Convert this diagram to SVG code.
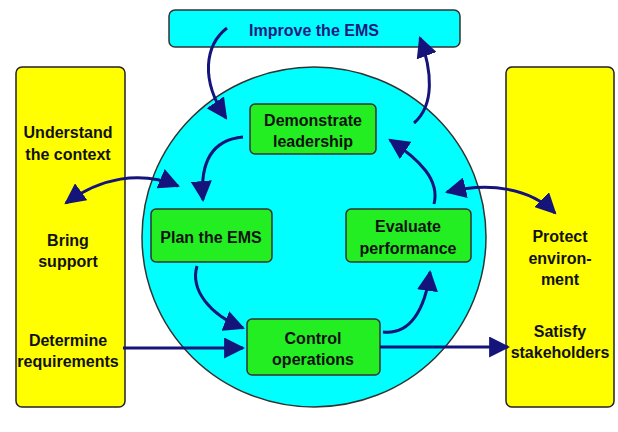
<svg xmlns="http://www.w3.org/2000/svg" width="618" height="432" viewBox="0 0 618 432">
<defs>
<style>
text{font-family:"Liberation Sans",Arial,sans-serif;font-weight:bold;font-size:16px;text-anchor:middle;fill:#111}
.y{fill:#ffff00;stroke:#222;stroke-width:1.5}
.g{fill:#22ee22;stroke:#333;stroke-width:1.5}
.c path{fill:none;stroke:#14147a;stroke-width:3;marker-end:url(#a)}
</style>
<marker id="a" viewBox="0 0 10 10" refX="9" refY="5" markerWidth="7" markerHeight="7" orient="auto-start-reverse" markerUnits="strokeWidth"><path d="M0,0 L10,5 L0,10 z" fill="#14147a"/></marker>
</defs>
<rect width="618" height="432" fill="#fff"/>
<g id="improve"><rect x="169" y="10" width="291" height="37" rx="6" fill="#00ffff" stroke="#333" stroke-width="1.5"/><text x="314" y="36" style="fill:#1a1a80">Improve the EMS</text></g>
<g id="left"><rect class="y" x="16" y="67" width="109" height="340" rx="6"/>
<text x="68" y="138">Understand</text><text x="68" y="160">the context</text>
<text x="68" y="246">Bring</text><text x="68" y="267">support</text>
<text x="68" y="346">Determine</text><text x="68" y="367">requirements</text></g>
<g id="right"><rect class="y" x="506" y="67" width="108" height="340" rx="6"/>
<text x="560" y="242">Protect</text><text x="560" y="264">environ-</text><text x="560" y="285">ment</text>
<text x="560" y="337">Satisfy</text><text x="560" y="358">stakeholders</text></g>
<g id="circle"><ellipse cx="314" cy="237" rx="172" ry="170" fill="#00ffff" stroke="#333" stroke-width="1.5"/></g>
<g id="demonstrate"><rect class="g" x="250" y="104" width="126" height="50" rx="5"/><text x="313" y="126">Demonstrate</text><text x="313" y="147">leadership</text></g>
<g id="plan"><rect class="g" x="151" y="209" width="121" height="53" rx="5"/><text x="211" y="243">Plan the EMS</text></g>
<g id="evaluate"><rect class="g" x="346" y="209" width="125" height="53" rx="5"/><text x="408" y="232">Evaluate</text><text x="408" y="254">performance</text></g>
<g id="control"><rect class="g" x="247" y="319" width="133" height="56" rx="5"/><text x="313" y="344">Control</text><text x="313" y="365">operations</text></g>
<g class="c" id="connectors">
<path d="M227,28 C205,45 200,80 226,118"/>
<path d="M414,123 C435,105 432,70 420,38"/>
<path d="M243,137 C210,140 200,165 203,200"/>
<path d="M197,266 C190,290 210,315 243,328"/>
<path d="M383,332 C410,335 425,310 430,272"/>
<path d="M434,204 C440,180 420,160 390,140"/>
<path d="M178,186 C140,170 100,178 66,203" style="marker-start:url(#a)"/>
<path d="M447,192 C490,182 530,188 555,213" style="marker-start:url(#a)"/>
<path d="M123,348 L243,348"/>
<path d="M380,347 L508,347"/>
</g>
</svg>
